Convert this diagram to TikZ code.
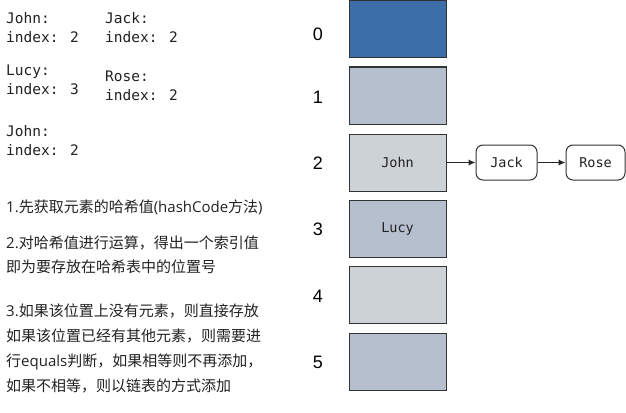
\documentclass[tikz,border=0pt]{standalone}
\usepackage{fontspec}
\setmainfont{Liberation Sans}
\newfontfamily\cjk{Noto Sans CJK SC}
\newfontfamily\latn{Open Sans}
\newfontfamily\mono{DejaVu Sans Mono}
\newcommand{\lt}[1]{{\latn #1}}
\usetikzlibrary{arrows.meta}
\definecolor{linec}{HTML}{333333}
\definecolor{darkblue}{HTML}{3C6EA9}
\definecolor{greyblue}{HTML}{B5BFCE}
\definecolor{lightgrey}{HTML}{CDD2D7}
\definecolor{txt}{HTML}{222222}
\begin{document}
\begin{tikzpicture}[x=1pt,y=-1pt,
  bucket/.style={draw=linec, line width=1pt, minimum width=97pt, minimum height=57pt, inner sep=0pt, text=txt, font=\mono\fontsize{13.5}{13.5}\selectfont},
  chain/.style={draw=linec, line width=1pt, rounded corners=7pt, fill=white, minimum height=35pt, inner sep=0pt, text=txt, font=\mono\fontsize{13.5}{13.5}\selectfont},
  idx/.style={text=black, font=\fontsize{18}{18}\selectfont},
  code/.style={anchor=west, align=left, inner sep=0pt, text=txt, font=\mono\fontsize{14.5}{19}\selectfont},
  note/.style={anchor=west, align=left, inner sep=0pt, text=txt, font=\cjk\fontsize{15}{25}\selectfont},
  arr/.style={draw=black!85, line width=1.7pt, -{Latex[length=7pt,width=6.5pt]}}]
\useasboundingbox (0,0) rectangle (626,412);
% left code texts
\node[code] (t1) at (6,27.5) {John:\\index: 2};
\node[code] (t2) at (105,27.5) {Jack:\\index: 2};
\node[code] (t3) at (6,79.5) {Lucy:\\index: 3};
\node[code] (t4) at (105,86) {Rose:\\index: 2};
\node[code] (t5) at (6,141) {John:\\index: 2};
% notes
\node[note] (n1) at (6,207) {\lt{1.}先获取元素的哈希值\lt{(hashCode}方法\lt{)}};
\node[note, font=\cjk\fontsize{15}{24}\selectfont] (n2) at (6,255) {\lt{2.}对哈希值进行运算，得出一个索引值\\即为要存放在哈希表中的位置号};
\node[note] (n3) at (6,348.5) {\lt{3.}如果该位置上没有元素，则直接存放\\如果该位置已经有其他元素，则需要进\\行\lt{equals}判断，如果相等则不再添加，\\如果不相等，则以链表的方式添加};
% buckets
\node[bucket, fill=darkblue] (b0) at (397.5,29.5) {};
\node[bucket, fill=greyblue] (b1) at (397.5,95.5) {};
\node[bucket, fill=lightgrey] (b2) at (397.5,162.5) {John};
\node[bucket, fill=greyblue] (b3) at (397.5,228.5) {Lucy};
\node[bucket, fill=lightgrey] (b4) at (397.5,294.5) {};
\node[bucket, fill=greyblue] (b5) at (397.5,361.5) {};
% index labels
\node[idx] (i0) at (318,34) {0};
\node[idx] (i1) at (318,97.5) {1};
\node[idx] (i2) at (318,163) {2};
\node[idx] (i3) at (318,229.5) {3};
\node[idx] (i4) at (318,296) {4};
\node[idx] (i5) at (318,362) {5};
% chain
\node[chain, minimum width=61pt] (jack) at (506.5,162.5) {Jack};
\node[chain, minimum width=59pt] (rose) at (595.5,162.5) {Rose};
\draw[arr] (b2.east) -- (jack.west);
\draw[arr] (jack.east) -- (rose.west);
\end{tikzpicture}
\end{document}
